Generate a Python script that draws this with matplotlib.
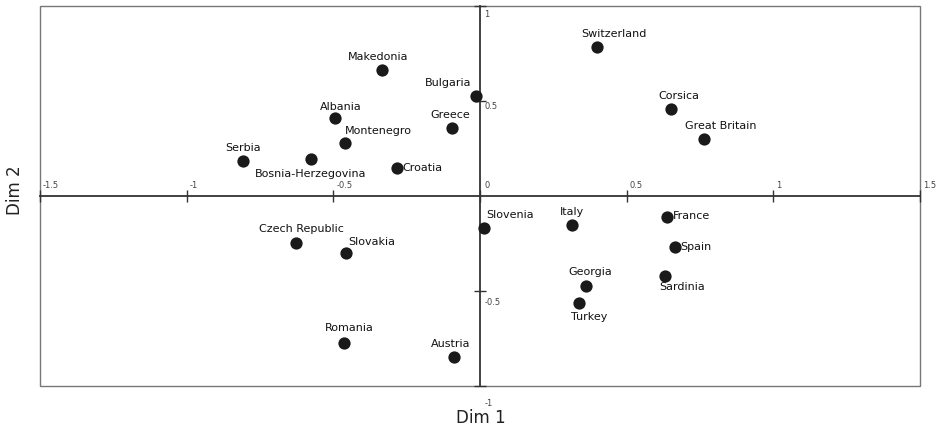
import matplotlib
matplotlib.use("Agg")
import matplotlib.pyplot as plt
from matplotlib.patches import Rectangle

# correspondence-analysis coordinates
countries = ["Serbia", "Bosnia-Herzegovina", "Albania", "Makedonia", "Montenegro",
             "Croatia", "Greece", "Bulgaria", "Switzerland", "Corsica",
             "Great Britain", "France", "Spain", "Sardinia", "Czech Republic",
             "Slovakia", "Slovenia", "Italy", "Georgia", "Turkey", "Romania", "Austria"]
dim1 = [-0.808, -0.576, -0.493, -0.333, -0.460, -0.284, -0.097, -0.014, 0.400, 0.651,
        0.764, 0.638, 0.665, 0.632, -0.628, -0.458, 0.015, 0.315, 0.361, 0.336,
        -0.463, -0.090]
dim2 = [0.186, 0.196, 0.412, 0.661, 0.277, 0.149, 0.358, 0.528, 0.782, 0.458,
        0.302, -0.112, -0.267, -0.421, -0.249, -0.302, -0.168, -0.151, -0.475, -0.563,
        -0.775, -0.847]

x_ticks = [-1.5, -1, -0.5, 0, 0.5, 1, 1.5]
y_ticks = [-1, -0.5, 0.5, 1]

# label placement (offset in points, horizontal alignment)
label_pos = {
    "Serbia": (0, 9, "center"),
    "Bosnia-Herzegovina": (0, -11, "center"),
    "Albania": (4, 8, "center"),
    "Makedonia": (-3, 10, "center"),
    "Montenegro": (0, 9, "left"),
    "Croatia": (4, 0, "left"),
    "Greece": (-1, 9, "center"),
    "Bulgaria": (-3, 9, "right"),
    "Switzerland": (12, 10, "center"),
    "Corsica": (6, 9, "center"),
    "Great Britain": (12, 9, "center"),
    "France": (4, 1, "left"),
    "Spain": (4, 0, "left"),
    "Sardinia": (12, -8, "center"),
    "Czech Republic": (4, 10, "center"),
    "Slovakia": (2, 8, "left"),
    "Slovenia": (1, 9, "left"),
    "Italy": (0, 9, "center"),
    "Georgia": (3, 10, "center"),
    "Turkey": (8, -10, "center"),
    "Romania": (4, 11, "center"),
    "Austria": (-2, 9, "center"),
}

fig = plt.figure(figsize=(9.38, 4.28), dpi=100)
ax = fig.add_axes([40 / 938, 42 / 428, 880 / 938, 380 / 428])
ax.set_xlim(-1.5, 1.5)
ax.set_ylim(-1, 1)

# centre axes through the origin
for side in ["left", "bottom"]:
    ax.spines[side].set_position("zero")
    ax.spines[side].set_color("#333333")
    ax.spines[side].set_linewidth(1.3)
for side in ["top", "right"]:
    ax.spines[side].set_visible(False)
ax.add_patch(Rectangle((0, 0), 1, 1, transform=ax.transAxes, fill=False,
                       ec="#777777", lw=1.0, clip_on=False, zorder=0))

ax.set_xticks(x_ticks)
ax.set_yticks(y_ticks)
ax.tick_params(direction="inout", length=8, width=1, color="#333333",
               labelbottom=False, labelleft=False)

tick_kw = dict(fontsize=6, color="#444444", textcoords="offset points",
               annotation_clip=False)
for v in x_ticks:
    if v == 0:
        continue
    ax.annotate(f"{v:g}", (v, 0), xytext=(2, 4), ha="left", va="bottom", **tick_kw)
ax.annotate("0", (0, 0), xytext=(3, 4), ha="left", va="bottom", **tick_kw)
for v in y_ticks:
    dy = {1: -3, 0.5: -1, -0.5: -5, -1: -9}[v]
    ax.annotate(f"{v:g}", (0, v), xytext=(3, dy), ha="left", va="top", **tick_kw)

ax.scatter(dim1, dim2, s=78, color="#1a1a1a", zorder=3, linewidths=0)

for name, x, y in zip(countries, dim1, dim2):
    dx, dy, ha = label_pos[name]
    ax.annotate(name, (x, y), xytext=(dx, dy), textcoords="offset points",
                ha=ha, va="center", fontsize=8, color="#111111")

fig.text(481 / 938, 1 - 418 / 428, "Dim 1", ha="center", va="center",
         fontsize=12, color="#222222")
fig.text(15 / 938, 1 - 190 / 428, "Dim 2", ha="center", va="center",
         rotation=90, fontsize=12, color="#222222")

fig.savefig("out.png", dpi=100)
